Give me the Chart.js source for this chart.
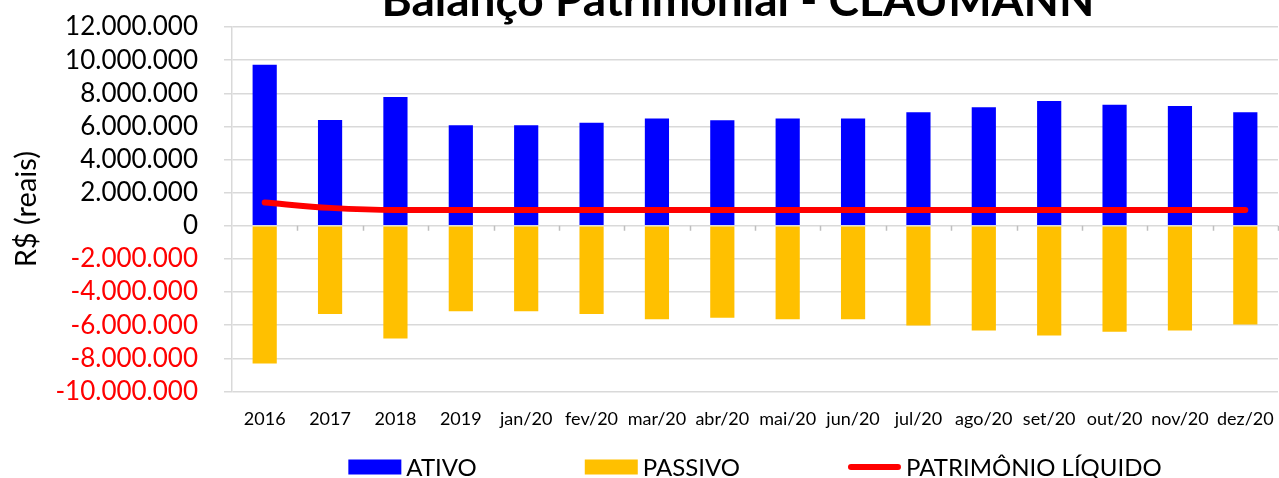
<!DOCTYPE html>
<html>
<head>
<meta charset="utf-8">
<script src="https://cdn.jsdelivr.net/npm/chart.js@4.4.1/dist/chart.umd.min.js"></script>
<style>
  html, body { margin: 0; padding: 0; background: #fff; overflow: hidden; }
  #wrap { position: relative; width: 1279px; height: 478px; overflow: hidden; }
  /* chart is wider/taller than the window: the original is cropped top and right */
  #wrap canvas { position: absolute; left: 0; top: -22px; }
</style>
</head>
<body>
<div id="wrap"><canvas id="balanco" width="1476" height="500"></canvas></div>
<script>
const categories = ['2016', '2017', '2018', '2019', 'jan/20', 'fev/20', 'mar/20', 'abr/20',
  'mai/20', 'jun/20', 'jul/20', 'ago/20', 'set/20', 'out/20', 'nov/20', 'dez/20'];

const ativo = [9720000, 6390000, 7770000, 6070000, 6070000, 6220000, 6470000, 6370000,
  6470000, 6470000, 6850000, 7150000, 7530000, 7310000, 7230000, 6850000];

const passivo = [-8320000, -5320000, -6800000, -5160000, -5160000, -5320000, -5640000, -5560000,
  -5640000, -5640000, -6020000, -6320000, -6620000, -6400000, -6320000, -5960000];

const patrimonio = [1400000, 1080000, 950000, 950000, 950000, 950000, 950000, 950000,
  950000, 950000, 950000, 950000, 950000, 950000, 950000, 950000];

const yMin = -10000000;
const yMax = 12000000;
const yStep = 2000000;

const FONT = 'Lato, "Open Sans", sans-serif';

function formatBR(v) {
  const s = Math.abs(v).toString().replace(/\B(?=(\d{3})+(?!\d))/g, '.');
  return (v < 0 ? '-' : '') + s;
}

// small tick marks below the zero line, between the categories
const zeroTicks = {
  id: 'zeroTicks',
  beforeDatasetsDraw(chart) {
    const { ctx } = chart;
    const x = chart.scales.x, y = chart.scales.y;
    const y0 = y.getPixelForValue(0);
    const step = (x.right - x.left) / categories.length;
    ctx.save();
    ctx.strokeStyle = '#bfbfbf';
    ctx.lineWidth = 1.5;
    ctx.beginPath();
    for (let i = 1; i <= categories.length; i++) {
      const px = Math.round(x.left + i * step) + 0.5;
      ctx.moveTo(px, y0);
      ctx.lineTo(px, y0 + 5);
    }
    ctx.stroke();
    ctx.restore();
  }
};

// Excel-like legend: wide keys, small gap to the text, big gap between items
const bottomLegend = {
  id: 'bottomLegend',
  afterDraw(chart, args, opts) {
    const { ctx, chartArea } = chart;
    ctx.save();
    ctx.font = opts.fontSize + 'px ' + FONT;
    ctx.textBaseline = 'middle';
    ctx.textAlign = 'left';
    const items = chart.data.datasets.map(ds => ({
      text: ds.label,
      line: ds.type === 'line',
      color: ds.type === 'line' ? ds.borderColor : ds.backgroundColor
    }));
    const widths = items.map(it => opts.keyWidth + opts.keyGap + ctx.measureText(it.text).width);
    const total = widths.reduce((a, b) => a + b, 0) + opts.itemGap * (items.length - 1);
    let cx = (chartArea.left + chartArea.right) / 2 - total / 2;
    const cy = opts.y;
    items.forEach((it, i) => {
      if (it.line) {
        ctx.strokeStyle = it.color;
        ctx.lineWidth = 6;
        ctx.lineCap = 'round';
        ctx.beginPath();
        ctx.moveTo(cx + 3, cy);
        ctx.lineTo(cx + opts.keyWidth - 3, cy);
        ctx.stroke();
      } else {
        ctx.fillStyle = it.color;
        ctx.fillRect(cx, cy - 7.5, opts.keyWidth, 15);
      }
      ctx.fillStyle = '#000';
      ctx.fillText(it.text, cx + opts.keyWidth + opts.keyGap, cy + 1);
      cx += widths[i] + opts.itemGap;
    });
    ctx.restore();
  }
};

new Chart(document.getElementById('balanco'), {
  data: {
    labels: categories,
    datasets: [
      {
        type: 'bar',
        label: 'ATIVO',
        data: ativo,
        backgroundColor: '#0000FF',
        categoryPercentage: 1,
        barPercentage: 0.37,
        order: 2
      },
      {
        type: 'bar',
        label: 'PASSIVO',
        data: passivo,
        backgroundColor: '#FFC000',
        categoryPercentage: 1,
        barPercentage: 0.37,
        order: 2
      },
      {
        type: 'line',
        label: 'PATRIMÔNIO LÍQUIDO',
        data: patrimonio,
        borderColor: '#FF0000',
        backgroundColor: '#FF0000',
        borderWidth: 6,
        borderCapStyle: 'round',
        pointRadius: 0,
        cubicInterpolationMode: 'monotone',
        order: 0
      }
    ]
  },
  options: {
    responsive: false,
    devicePixelRatio: 1,
    animation: false,
    layout: { padding: { top: 0, bottom: 31, left: 0, right: 0 } },
    plugins: {
      legend: { display: false },
      tooltip: { enabled: false },
      title: {
        display: true,
        text: 'Balanço Patrimonial - CLAUMANN',
        color: '#000',
        font: { family: FONT, size: 46, weight: 'bold', lineHeight: 1 },
        padding: { top: 0, bottom: 3 }
      },
      bottomLegend: { fontSize: 24, keyWidth: 53, keyGap: 5, itemGap: 108, y: 489 }
    },
    scales: {
      x: {
        stacked: true,
        grid: { display: false, drawTicks: false },
        border: { display: false },
        ticks: {
          color: '#000',
          font: { family: FONT, size: 18 },
          padding: 17,
          maxRotation: 0,
          autoSkip: false
        }
      },
      y: {
        min: yMin,
        max: yMax,
        grid: { color: '#d9d9d9', lineWidth: 1.5, tickLength: 8, tickColor: '#d9d9d9' },
        border: { display: true, color: '#d9d9d9', width: 1.5 },
        ticks: {
          stepSize: yStep,
          autoSkip: false,
          padding: 26,
          font: { family: FONT, size: 26 },
          color: (c) => (c.tick && c.tick.value < 0 ? '#FF0000' : '#000'),
          callback: (v) => formatBR(v)
        },
        title: {
          display: true,
          text: 'R$ (reais)',
          color: '#000',
          font: { family: FONT, size: 29 },
          padding: { top: 9, bottom: 0 }
        },
        afterFit: (s) => { s.width = 232; }
      },
      yRight: {
        position: 'right',
        grid: { display: false, drawTicks: false },
        border: { display: false },
        ticks: { display: false },
        afterFit: (s) => { s.width = 198; }
      }
    }
  },
  plugins: [zeroTicks, bottomLegend]
});
</script>
</body>
</html>
